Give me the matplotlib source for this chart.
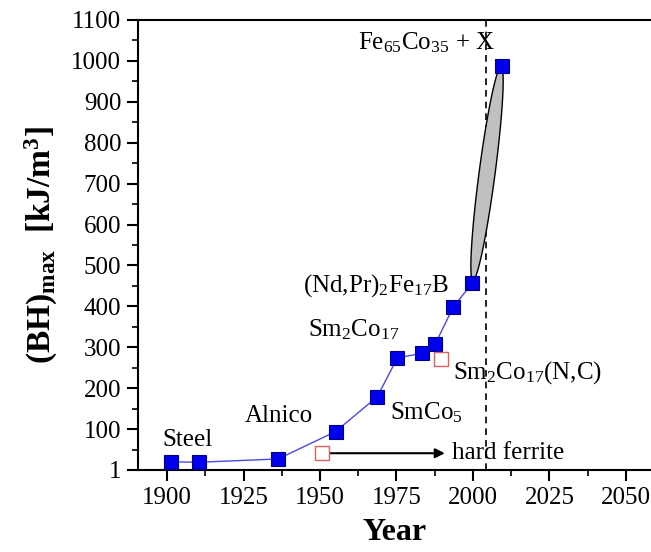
import numpy as np
import matplotlib.pyplot as plt
from matplotlib.patches import Polygon
from matplotlib.ticker import MultipleLocator, FixedLocator

plt.rcParams['font.family'] = 'Liberation Serif'
plt.rcParams['mathtext.fontset'] = 'custom'
plt.rcParams['mathtext.rm'] = 'Liberation Serif'
plt.rcParams['mathtext.it'] = 'Liberation Serif:italic'
plt.rcParams['mathtext.bf'] = 'Liberation Serif:bold'

# Datos: (BH)max de imanes permanentes a lo largo de los años
years = [1901.2, 1910.5, 1936.3, 1955.1, 1968.7, 1975.3, 1983.2, 1987.6, 1993.6, 1999.7, 2009.6]
bhmax = [20, 19, 27, 94, 179, 274, 285, 307, 399, 456, 988]

# Puntos abiertos (hard ferrite y Sm2Co17(N,C))
open_years = [1950.6, 1989.5]
open_bhmax = [41, 271]

# Etiquetas de materiales: (texto, año, valor)
labels = [
    ('Steel', 1898.5, 73),
    ('Alnico', 1925.5, 132),
    ('SmCo$_5$', 1972.8, 139),
    ('Sm$_2$Co$_{17}$', 1946.0, 342),
    ('(Nd,Pr)$_2$Fe$_{17}$B', 1944.4, 452),
    ('Sm$_2$Co$_{17}$(N,C)', 1993.6, 237),
    ('Fe$_{65}$Co$_{35}$ + X', 1962.3, 1044),
]

ferrite_arrow = (1952.6, 1990.8, 41)
limit_year = 2004.2

# Elipse: centro y extremo superior (en datos), semiancho en pixeles
ell_center = (2004.6, 725)
ell_tip = (2009.2, 986)
ell_halfwidth_px = 8

fig = plt.figure(figsize=(6.51, 5.52), dpi=100)
ax = fig.add_axes([138 / 651, 82 / 552, 513 / 651, 450 / 552])
ax.set_xlim(1890.5, 2058.2)
ax.set_ylim(0, 1100)

# Linea y puntos
ax.plot(years, bhmax, color='#4a4ae0', lw=1.0, zorder=3)
ax.plot(years, bhmax, ls='none', marker='s', ms=10, mfc='#0000ee',
        mec='#000080', mew=0.8, zorder=4)
ax.plot(open_years, open_bhmax, ls='none', marker='s', ms=10, mfc='white',
        mec='#e06060', mew=1.0, zorder=4)

# Linea vertical discontinua
ax.axvline(limit_year, color='black', lw=1.2, ls=(0, (4, 3)), zorder=2)

# Elipse gris (calculada en espacio de pantalla)
fig.canvas.draw()
to_disp = ax.transData
c_d = to_disp.transform(ell_center)
t_d = to_disp.transform(ell_tip)
a_d = t_d - c_d
perp = np.array([a_d[1], -a_d[0]]) / np.hypot(*a_d) * ell_halfwidth_px
t = np.linspace(0, 2 * np.pi, 200)
pts_d = c_d + np.outer(np.cos(t), a_d) + np.outer(np.sin(t), perp)
pts = to_disp.inverted().transform(pts_d)
ax.add_patch(Polygon(pts, closed=True, facecolor='#c0c0c0', edgecolor='black',
                     lw=1.0, zorder=3))

# Flecha hard ferrite
ax.annotate('', xy=(ferrite_arrow[1], ferrite_arrow[2]),
            xytext=(ferrite_arrow[0], ferrite_arrow[2]),
            arrowprops=dict(arrowstyle='-|>', color='black', lw=1.5,
                            mutation_scale=14, shrinkA=0, shrinkB=0))
ax.text(1993.3, 41, 'hard ferrite', fontsize=18, va='center', ha='left')

for txt, x, y in labels:
    ax.text(x, y, txt, fontsize=18, va='center', ha='left')

# Ejes
ax.spines['right'].set_visible(False)
for s in ['left', 'bottom', 'top']:
    ax.spines[s].set_linewidth(1.5)

ax.xaxis.set_major_locator(MultipleLocator(25))
ax.xaxis.set_minor_locator(MultipleLocator(12.5))
ax.set_xticks([1900, 1925, 1950, 1975, 2000, 2025, 2050])
ax.yaxis.set_major_locator(FixedLocator(np.arange(0, 1101, 100)))
ax.yaxis.set_minor_locator(MultipleLocator(50))
ax.set_yticklabels(['1'] + [str(v) for v in range(100, 1101, 100)])
ax.tick_params(which='major', direction='out', length=8, width=1.5,
               labelsize=18, pad=4)
ax.tick_params(which='minor', direction='out', length=4, width=1.2)
ax.tick_params(top=False, right=False, which='both')

ax.set_xlabel('Year', fontsize=23, fontweight='bold', labelpad=7)
ax.set_ylabel(r'(BH)$_{\mathbf{max}}$  [kJ/m$^{\mathbf{3}}$]', fontsize=24,
              fontweight='bold', labelpad=8)

fig.savefig('out.png', dpi=100)
